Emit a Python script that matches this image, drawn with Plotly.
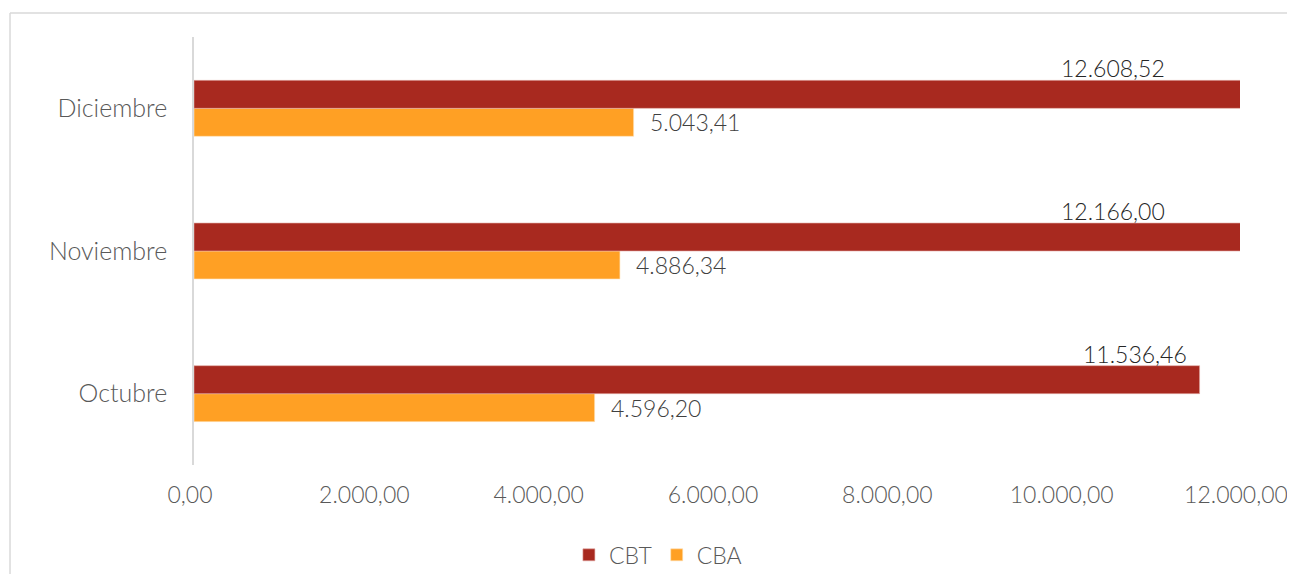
import plotly.graph_objects as go

months = ["Octubre", "Noviembre", "Diciembre"]
cbt = [11536.46, 12166.00, 12608.52]
cba = [4596.20, 4886.34, 5043.41]
tick_vals = [0, 2000, 4000, 6000, 8000, 10000, 12000]
tick_text = ["0,00", "2.000,00", "4.000,00", "6.000,00", "8.000,00", "10.000,00", "12.000,00"]

def fmt(v):
    s = f"{v:,.2f}"
    return s.replace(",", "X").replace(".", ",").replace("X", ".")

FONT = "Lato"
FS = 23
W = 300
C_CBT = "#A8291F"
C_CBA = "#FFA024"
XMAX = 12000

fig = go.Figure()
fig.add_trace(go.Bar(y=months, x=cba, orientation="h", name="CBA",
                     marker=dict(color=C_CBA, line=dict(color="#FFE2B8", width=0.6)),
                     legendrank=2, hoverinfo="x+y"))
fig.add_trace(go.Bar(y=months, x=cbt, orientation="h", name="CBT",
                     marker=dict(color=C_CBT, line=dict(color="#E2A9A4", width=0.6)),
                     legendrank=1, hoverinfo="x+y"))

ann = []
cbt_xshift = [-65, -127, -127]
for m, v, xs in zip(months, cbt, cbt_xshift):
    ann.append(dict(x=min(v, XMAX), y=m, text=fmt(v), showarrow=False, xanchor="center",
                    yanchor="middle", xshift=xs, yshift=40,
                    font=dict(family=FONT, size=FS, weight=W, color="#262626")))
for m, v in zip(months, cba):
    ann.append(dict(x=v, y=m, text=fmt(v), showarrow=False, xanchor="left",
                    yanchor="middle", xshift=14, yshift=-14,
                    font=dict(family=FONT, size=FS, weight=W, color="#404040")))

fig.update_layout(
    width=1287, height=566,
    margin=dict(l=186, r=55, t=29, b=109, autoexpand=False),
    paper_bgcolor="white", plot_bgcolor="white",
    barmode="group", bargap=0.608, bargroupgap=0,
    font=dict(family=FONT, size=FS, weight=W, color="#595959"),
    xaxis=dict(range=[0, XMAX], tickvals=tick_vals, ticktext=tick_text,
               showgrid=False, zeroline=False, showline=False, ticks="",
               ticklabelstandoff=14, ticklabelshift=-4, automargin=False,
               tickfont=dict(size=FS, weight=W, color="#595959"), fixedrange=True),
    yaxis=dict(categoryorder="array", categoryarray=months, showgrid=False,
               showline=True, linecolor="#D9D9D9", linewidth=1.5, ticks="",
               ticklabelstandoff=20, automargin=False,
               tickfont=dict(size=25, weight=W, color="#595959"), fixedrange=True),
    legend=dict(orientation="h", x=0.4435, xanchor="center", y=-0.21, yanchor="middle",
                font=dict(size=FS, weight=W, color="#595959"), itemwidth=30,
                traceorder="normal"),
    annotations=ann,
    shapes=[
        dict(type="line", xref="paper", yref="paper", x0=-0.1759, y0=1.0561,
             x1=1.2, y1=1.0561, line=dict(color="#D9D9D9", width=1.5)),
        dict(type="line", xref="paper", yref="paper", x0=-0.1759, y0=-0.6,
             x1=-0.1759, y1=1.0561, line=dict(color="#D9D9D9", width=1.5)),
    ],
)

fig.write_html("out.html")
